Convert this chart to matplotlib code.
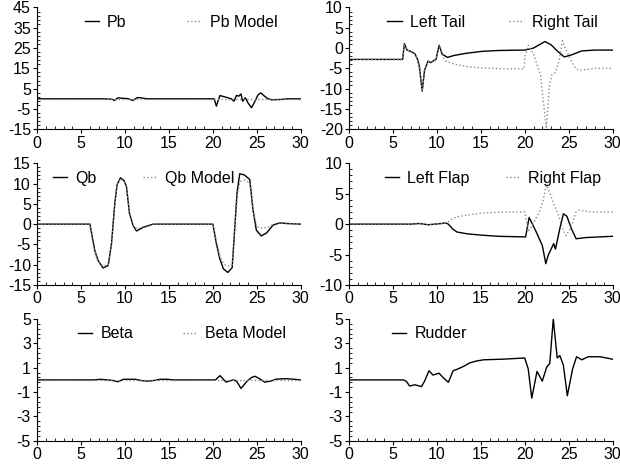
import matplotlib
matplotlib.use("Agg")
import matplotlib.pyplot as plt
from matplotlib.ticker import AutoMinorLocator

plt.rcParams['font.family'] = ['Liberation Sans', 'DejaVu Sans']
plt.rcParams['axes.unicode_minus'] = False

# --- data ---
pb_t = [0, 7.5, 8.5, 8.8, 9.2, 9.6, 10.3, 10.9, 11.4, 11.8, 12.5, 20.15, 20.4, 20.8,
        21.4, 22.1, 22.4, 22.7, 22.95, 23.2, 23.4, 23.7, 24.0, 24.4, 24.7, 25.15,
        25.45, 25.8, 26.3, 26.7, 27.8, 28.5, 30]
pb_v = [0, 0, -0.2, -0.8, 0.5, 0.3, 0.1, -0.8, 0.6, 0.5, 0, 0, -3.6, 1.6,
        0.9, 0, -1.2, 1.7, 1.3, 2.4, -1.2, 0.5, -2, -4.4, -2, 2,
        2.9, 1.6, 0, -0.5, -0.3, 0, 0]
pb_model_t = [0, 30]
pb_model_v = [0, 0]

ltail_t = [0, 6.1, 6.3, 6.6, 7.0, 7.5, 7.8, 8.0, 8.33, 8.6, 9.0, 9.3, 9.5, 9.7, 9.9,
           10.25, 10.6, 11.2, 12.0, 13.3, 15.2, 17, 20.0, 21.0, 22.3, 23.0, 23.7,
           24.5, 25.3, 26.5, 28, 30]
ltail_v = [-2.8, -2.8, 1.1, -0.5, -0.8, -1.4, -2.8, -4.5, -10.6, -5.4, -3.2, -3.6, -3.3,
           -3.0, -2.8, 0.7, -1.5, -2.3, -1.8, -1.3, -0.8, -0.6, -0.5, 0, 1.6, 0.8, -0.7,
           -2.2, -1.7, -0.7, -0.5, -0.5]
rtail_t = [0, 6.1, 6.3, 6.6, 7.0, 7.5, 7.8, 8.0, 8.33, 8.6, 9.0, 9.3, 9.5, 9.7, 9.9,
           10.25, 10.6, 11.0, 12.1, 13.5, 15.2, 17.5, 19.9, 20.05, 20.4, 21.0, 21.8,
           22.1, 22.46, 22.8, 23.1, 23.5, 23.9, 24.3, 24.7, 25.3, 25.8, 26.2, 27, 28, 30]
rtail_v = [-2.8, -2.8, 1.1, -0.5, -0.8, -1.4, -2.8, -4.5, -10.6, -5.4, -3.2, -3.6, -3.3,
           -3.0, -2.8, 0.7, -1.8, -3.2, -4.0, -4.6, -4.9, -5.1, -5.1, -2.0, 0.7, -1.5,
           -6.7, -12.8, -19.8, -9.3, -6.5, -6.0, -3.2, 1.8, -0.5, -3.2, -5.0, -5.5,
           -5.3, -5.0, -5.0]

qb_t = [0, 6.0, 6.56, 6.94, 7.5, 8.08, 8.46, 8.84, 9.1, 9.48, 9.86, 10.16, 10.5, 10.9,
        11.3, 12.06, 13.2, 20.0, 20.4, 20.8, 21.2, 21.7, 22.2, 22.5, 22.75, 23.06,
        23.6, 24.2, 24.57, 24.95, 25.5, 26.1, 26.85, 27.6, 28.4, 30]
qb_v = [0, 0, -6.5, -9.0, -10.8, -10.2, -4.8, 5.2, 9.75, 11.4, 10.8, 9.3, 2.7, -0.25,
        -1.7, -0.8, 0, 0, -4.8, -8.6, -11.0, -11.9, -10.7, -0.7, 7.7, 12.4,
        12.1, 11.0, 3.5, -1.5, -2.9, -2.2, -0.25, 0.3, 0.15, 0]
qb_model_t = [0, 6.0, 6.4, 6.9, 7.5, 8.1, 8.5, 8.85, 9.1, 9.5, 9.9, 10.2, 10.5, 10.9,
              11.4, 12.1, 13.0, 20.0, 20.4, 20.8, 21.3, 21.8, 22.2, 22.5, 22.8, 23.1,
              23.6, 24.2, 24.6, 25.0, 25.6, 26.2, 26.9, 27.6, 28.5, 30]
qb_model_v = [0, 0, -5.5, -9.2, -10.3, -10.0, -4.2, 5.5, 9.8, 11.0, 10.6, 9.0, 2.5, -0.4,
              -1.2, -0.6, 0, 0, -4.2, -8.0, -10.0, -10.3, -10.0, -0.5, 7.5, 10.5,
              10.8, 10.2, 3.2, -0.6, -1.0, -0.8, 0.0, 0.4, 0.2, 0]

lflap_t = [0, 7.0, 8.0, 9.0, 9.8, 10.5, 11.0, 11.3, 11.8, 12.3, 13.5, 15.0, 17.0, 20.1,
           20.5, 21.3, 22.0, 22.4, 22.65, 23.0, 23.3, 23.5, 24.0, 24.4, 24.8, 25.3,
           25.85, 27.0, 30]
lflap_v = [0, 0, 0.1, -0.1, 0, 0.1, 0.2, 0, -0.8, -1.3, -1.6, -1.8, -2.0, -2.1,
           1.1, -1.25, -3.5, -6.5, -5.2, -4.1, -3.2, -4.1, -0.7, 1.7, 1.3, -0.7,
           -2.4, -2.2, -2.0]
rflap_t = [0, 7.0, 8.0, 9.0, 9.8, 10.5, 11.0, 11.3, 11.8, 12.3, 13.5, 15.0, 17.0, 20.0,
           20.4, 20.9, 21.7, 22.1, 22.45, 22.9, 23.3, 23.8, 24.3, 24.7, 25.2, 25.85,
           26.2, 27.5, 30]
rflap_v = [0, 0, 0.1, -0.1, 0, 0.1, 0.2, 0.4, 0.9, 1.2, 1.5, 1.8, 1.95, 2.0,
           -1.25, -0.1, 2.1, 3.9, 6.4, 5.0, 3.3, 1.6, -0.7, -1.9, -0.7, 2.0,
           2.3, 2.0, 2.0]

beta_t = [0, 6.5, 7.2, 8.0, 8.6, 9.2, 9.8, 10.5, 11.2, 11.8, 12.5, 13.3, 14.0, 14.8,
          15.5, 20.3, 20.8, 21.5, 22.3, 22.7, 23.2, 23.9, 24.4, 24.8, 25.3, 25.9,
          26.6, 27.2, 28.3, 29.3, 30]
beta_v = [0, 0, 0.05, 0, -0.05, -0.15, 0.05, 0.05, 0.05, -0.05, -0.1, -0.05, 0.05, 0.05,
          0, 0, 0.35, -0.18, 0, -0.1, -0.7, -0.1, 0.2, 0.3, 0.1, -0.18,
          -0.1, 0.06, 0.1, 0.05, 0]
beta_model_t = [0, 30]
beta_model_v = [0, 0]

rudder_t = [0, 6.15, 6.5, 6.9, 7.5, 8.25, 8.6, 9.1, 9.55, 10.25, 10.7, 11.3, 11.85,
            12.4, 13.0, 13.75, 14.5, 15.3, 17.5, 20.0, 20.4, 20.8, 21.4, 22.0, 22.5,
            22.85, 23.25, 23.7, 24.0, 24.4, 24.85, 25.45, 25.9, 26.5, 27.2, 28.6, 30]
rudder_v = [0, 0, -0.1, -0.5, -0.4, -0.55, -0.1, 0.75, 0.4, 0.55, 0.2, -0.2, 0.75,
            0.9, 1.1, 1.4, 1.55, 1.65, 1.7, 1.8, 0.9, -1.5, 0.7, -0.1, 1.05,
            1.35, 5.0, 1.8, 2.0, 1.2, -1.3, 0.9, 1.9, 1.65, 1.9, 1.9, 1.7]

GRAY = '#8c8c8c'
FS = 11.5


def panel(rect, ylim, yticks, solid, dotted, labels, leg_x, colsp):
    ax = fig.add_axes(rect)
    ax.plot(solid[0], solid[1], '-', color='black', lw=1.0, label=labels[0])
    if dotted is not None:
        ax.plot(dotted[0], dotted[1], ':', color=GRAY, lw=1.0, label=labels[1])
    ax.set_xlim(0, 30)
    ax.set_ylim(*ylim)
    ax.set_xticks(range(0, 31, 5))
    ax.set_yticks(yticks)
    ax.xaxis.set_minor_locator(AutoMinorLocator(5))
    ax.yaxis.set_minor_locator(AutoMinorLocator(5))
    ax.spines['top'].set_visible(False)
    ax.spines['right'].set_visible(False)
    ax.tick_params(which='major', direction='out', length=3, width=0.8,
                   labelsize=FS, pad=1.5)
    ax.tick_params(which='minor', direction='in', length=2.5, width=0.6)
    ax.legend(loc='upper left', bbox_to_anchor=(leg_x, 0.94), ncol=2,
              frameon=False, fontsize=FS, handlelength=0.9, handletextpad=0.5,
              columnspacing=colsp, borderaxespad=0, borderpad=0)
    return ax


fig = plt.figure(figsize=(6.2, 4.65), dpi=100)

L, R, W, H = 0.06, 0.563, 0.425, 0.262
rows = [0.722, 0.387, 0.052]

panel([L, rows[0], W, H], (-15, 45), range(-15, 46, 10),
      (pb_t, pb_v), (pb_model_t, pb_model_v), ['Pb', 'Pb Model'], 0.18, 3.8)
panel([R, rows[0], W, H], (-20, 10), range(-20, 11, 5),
      (ltail_t, ltail_v), (rtail_t, rtail_v), ['Left Tail', 'Right Tail'], 0.145, 2.8)
panel([L, rows[1], W, H], (-15, 15), range(-15, 16, 5),
      (qb_t, qb_v), (qb_model_t, qb_model_v), ['Qb', 'Qb Model'], 0.06, 2.9)
panel([R, rows[1], W, H], (-10, 10), range(-10, 11, 5),
      (lflap_t, lflap_v), (rflap_t, rflap_v), ['Left Flap', 'Right Flap'], 0.135, 2.3)
panel([L, rows[2], W, H], (-5, 5), range(-5, 6, 2),
      (beta_t, beta_v), (beta_model_t, beta_model_v), ['Beta', 'Beta Model'], 0.155, 3.1)
panel([R, rows[2], W, H], (-5, 5), range(-5, 6, 2),
      (rudder_t, rudder_v), None, ['Rudder'], 0.163, 2.0)

plt.savefig('out.png', dpi=100)
